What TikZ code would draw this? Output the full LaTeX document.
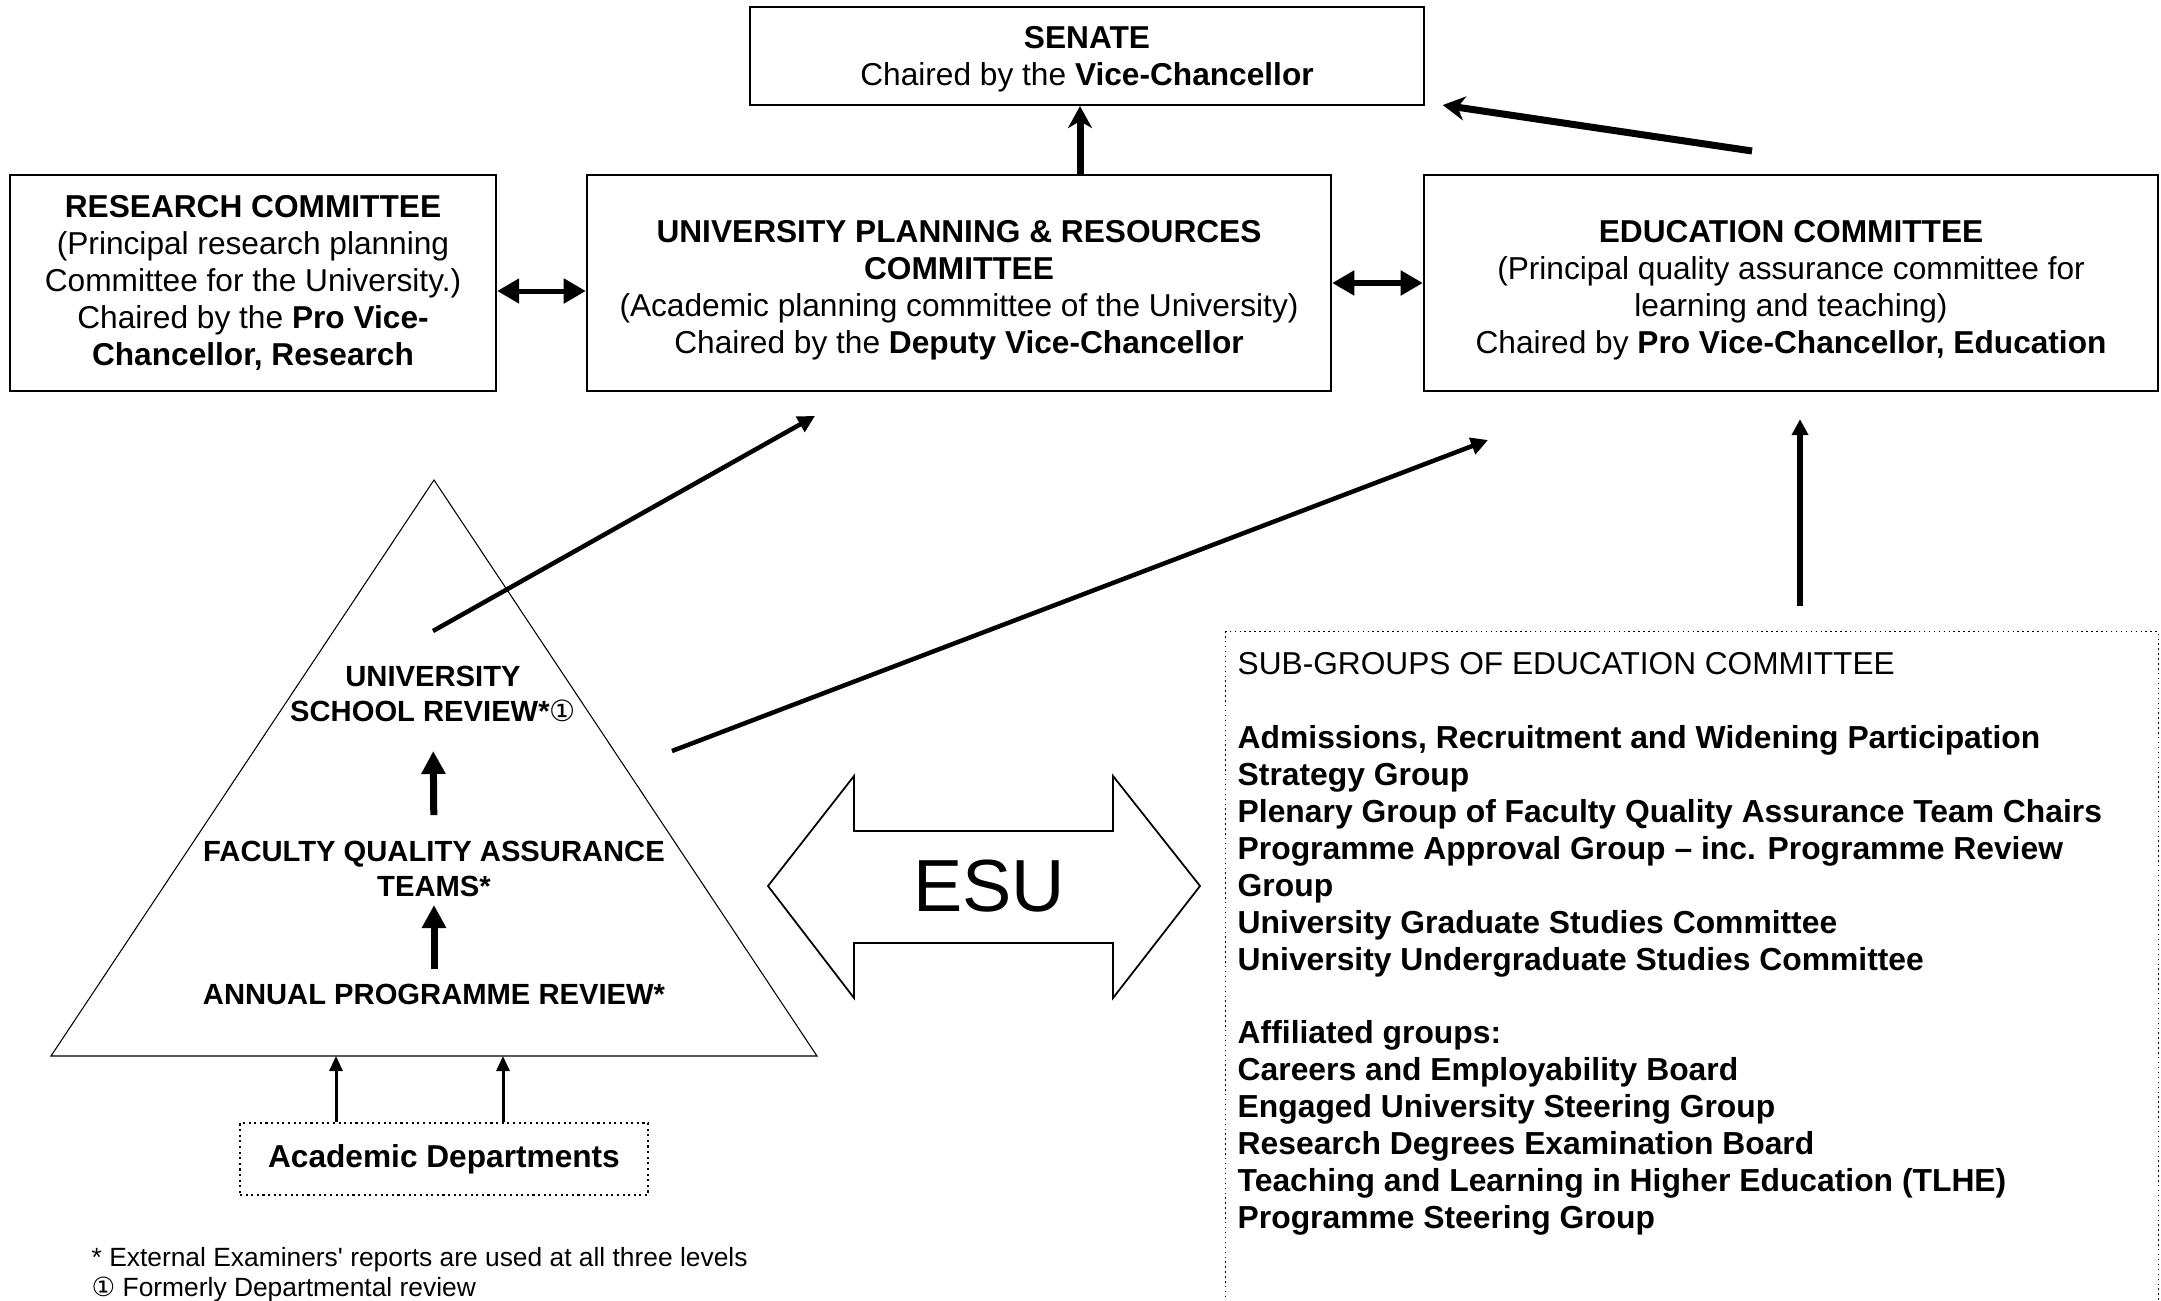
\documentclass[tikz,border=0pt]{standalone}
\usepackage{fontspec}
\setmainfont{Liberation Sans}
\newfontfamily\circfont{DejaVu Sans}
\usetikzlibrary{positioning, arrows.meta, calc}

\begin{document}
\begin{tikzpicture}[x=0.01cm, y=-0.01cm,
    every node/.style={font=\fontsize{9}{10.5}\selectfont, inner sep=0pt},
    box/.style={draw, line width=0.6pt, align=center},
    dotbox/.style={draw, densely dotted, line width=0.4pt},
    tri/.style={font=\fontsize{8.3}{10.2}\selectfont\bfseries, align=center},
    fat/.style={line width=0.07cm, -{Stealth[length=0.22cm, width=0.24cm, inset=0.07cm]}},
    twoway/.style={line width=0.05cm, {Triangle[length=0.22cm, width=0.24cm]}-{Triangle[length=0.22cm, width=0.24cm]}},
    slant/.style={line width=0.045cm, -{Triangle[length=0.17cm, width=0.17cm]}},
    riser/.style={line width=0.06cm, -{Triangle[length=0.16cm, width=0.16cm]}},
    inner/.style={line width=0.07cm, -{Triangle[length=0.23cm, width=0.23cm]}},
    base/.style={line width=0.03cm, -{Triangle[length=0.15cm, width=0.13cm]}}]
    \useasboundingbox (0,0) rectangle (2161,1300);

    % committees
    \node[box, minimum width=6.73cm, minimum height=0.98cm] (senate) at (1087,56)
        {\rule{0pt}{0.29cm}\textbf{SENATE}\\Chaired by the \textbf{Vice-Chancellor}};
    \node[box, minimum width=4.86cm, minimum height=2.16cm] (research) at (253,283)
        {\textbf{RESEARCH COMMITTEE}\\(Principal research planning\\Committee for the University.)\\Chaired by the \textbf{Pro Vice-}\\\textbf{Chancellor, Research}};
    \node[box, minimum width=7.44cm, minimum height=2.16cm] (uprc) at (959,283)
        {\rule{0pt}{0.36cm}\textbf{UNIVERSITY PLANNING \& RESOURCES}\\\textbf{COMMITTEE}\\(Academic planning committee of the University)\\Chaired by the \textbf{Deputy Vice-Chancellor}};
    \node[box, minimum width=7.34cm, minimum height=2.16cm] (edu) at (1791,283)
        {\rule{0pt}{0.36cm}\textbf{EDUCATION COMMITTEE}\\(Principal quality assurance committee for\\learning and teaching)\\Chaired by \textbf{Pro Vice-Chancellor, Education}};

    \draw[fat] ([xshift=-0.07cm]senate.south |- uprc.north) -- ([xshift=-0.07cm]senate.south);
    \coordinate (eduout) at (1752,151);
    \draw[fat] (eduout) -- ([xshift=0.18cm, yshift=0.01cm]senate.south east);
    \draw[twoway] ([yshift=-0.08cm]research.east) -- ([yshift=-0.08cm]uprc.west);
    \draw[twoway] (uprc.east) -- (edu.west);

    % review pyramid
    \coordinate (apex) at (434,480);
    \coordinate (bl) at (51,1056);
    \coordinate (br) at (817,1056);
    \draw[line width=0.3pt] (apex) -- (br) -- (bl) -- cycle;
    \node[tri] (usr) at (433,694) {UNIVERSITY\\SCHOOL REVIEW*{\circfont\mdseries ①}};
    \node[tri] (fqa) at (434,869) {FACULTY QUALITY ASSURANCE\\TEAMS*};
    \node[tri] (apr) at (434,994) {ANNUAL PROGRAMME REVIEW*};
    \draw[inner, shorten <=0.25cm, shorten >=0.28cm] (fqa.north) -- (usr.south);
    \draw[inner, shorten <=0.14cm, shorten >=0.07cm] (apr.north) -- (fqa.south);

    \node[box, dotbox, minimum width=4.08cm, minimum height=0.72cm,
        font=\fontsize{9}{10.5}\selectfont\bfseries] (dept) at (444,1159) {Academic Departments};
    \foreach \x in {336,503} {
        \draw[base] (dept.north -| \x,0) -- (bl -| \x,0);
    }

    \coordinate (usrout) at (433,631);
    \coordinate (uprcin) at (815,416);
    \draw[slant] (usrout) -- (uprcin);
    \coordinate (triout) at (672,751);
    \coordinate (eduin) at (1488,440);
    \draw[slant] (triout) -- (eduin);

    % ESU arrow
    \draw[line width=0.5pt] (768,886) -- (854,776) -- (854,831) -- (1113,831) -- (1113,776)
        -- (1200,886) -- (1113,998) -- (1113,943) -- (854,943) -- (854,998) -- cycle;
    \node[font=\fontsize{21}{24}\selectfont] (esu) at (989,886) {ESU};

    % sub-groups
    \node[dotbox, anchor=north west, minimum width=9.32cm, minimum height=7cm] (sub) at (1225,631) {};
    \node[anchor=north west] (subhead) at ([xshift=0.12cm, yshift=-0.21cm]sub.north west)
        {SUB-GROUPS OF EDUCATION COMMITTEE};
    \node[anchor=north west, align=left, font=\fontsize{9.05}{10.5}\selectfont\bfseries] (sublist)
        at ([yshift=-0.73cm]subhead.north west)
        {Admissions, Recruitment and Widening Participation\\Strategy Group\\
         Plenary Group of Faculty Quality Assurance Team Chairs\\
         Programme Approval Group -- inc. Programme Review\\Group\\
         University Graduate Studies Committee\\
         University Undergraduate Studies Committee\\[10.4pt]
         Affiliated groups:\\Careers and Employability Board\\
         Engaged University Steering Group\\Research Degrees Examination Board\\
         Teaching and Learning in Higher Education (TLHE)\\Programme Steering Group};
    \draw[riser] ([xshift=0.09cm, yshift=0.25cm]sub.north -| edu.south) -- ([xshift=0.09cm, yshift=-0.27cm]edu.south);

    % footnotes
    \node[anchor=west, align=left, font=\fontsize{7.5}{8.5}\selectfont] (notes) at (91,1275)
        {* External Examiners\textquotesingle{} reports are used at all three levels\\{\circfont ①} Formerly Departmental review};
\end{tikzpicture}
\end{document}
